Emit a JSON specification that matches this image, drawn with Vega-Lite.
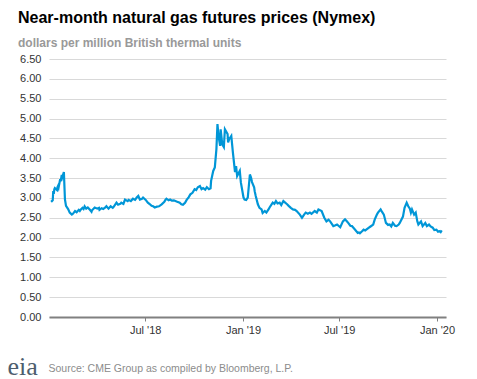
{
  "$schema": "https://vega.github.io/schema/vega-lite/v6.json",
  "width": 397,
  "height": 258,
  "autosize": {"type": "none"},
  "padding": {"left": 49, "top": 59, "right": 31, "bottom": 62},
  "background": "white",
  "title": {
    "text": "Near-month natural gas futures prices (Nymex)",
    "subtitle": "dollars per million British thermal units",
    "anchor": "start",
    "frame": "group",
    "dx": -31,
    "offset": 4,
    "font": "Liberation Sans",
    "fontSize": 16,
    "fontWeight": "bold",
    "color": "#000000",
    "subtitleFont": "Liberation Sans",
    "subtitleFontSize": 12,
    "subtitleFontWeight": "bold",
    "subtitleColor": "#999999",
    "subtitlePadding": 12
  },
  "config": {"view": {"stroke": null}},
  "data": {
    "values": [
      {"date": "2018-01-05", "price": 2.90},
      {"date": "2018-01-08", "price": 2.94},
      {"date": "2018-01-09", "price": 3.17},
      {"date": "2018-01-10", "price": 3.10},
      {"date": "2018-01-11", "price": 3.22},
      {"date": "2018-01-12", "price": 3.25},
      {"date": "2018-01-16", "price": 3.20},
      {"date": "2018-01-17", "price": 3.27},
      {"date": "2018-01-18", "price": 3.30},
      {"date": "2018-01-19", "price": 3.26},
      {"date": "2018-01-22", "price": 3.47},
      {"date": "2018-01-23", "price": 3.42},
      {"date": "2018-01-25", "price": 3.58},
      {"date": "2018-01-26", "price": 3.52},
      {"date": "2018-01-29", "price": 3.65},
      {"date": "2018-01-31", "price": 2.96},
      {"date": "2018-02-02", "price": 2.80},
      {"date": "2018-02-06", "price": 2.72},
      {"date": "2018-02-09", "price": 2.63},
      {"date": "2018-02-13", "price": 2.58},
      {"date": "2018-02-15", "price": 2.60},
      {"date": "2018-02-19", "price": 2.67},
      {"date": "2018-02-22", "price": 2.64},
      {"date": "2018-02-26", "price": 2.70},
      {"date": "2018-02-28", "price": 2.67},
      {"date": "2018-03-02", "price": 2.71},
      {"date": "2018-03-05", "price": 2.75},
      {"date": "2018-03-07", "price": 2.72},
      {"date": "2018-03-09", "price": 2.79},
      {"date": "2018-03-12", "price": 2.73},
      {"date": "2018-03-15", "price": 2.76},
      {"date": "2018-03-19", "price": 2.70},
      {"date": "2018-03-22", "price": 2.65},
      {"date": "2018-03-23", "price": 2.69},
      {"date": "2018-03-28", "price": 2.76},
      {"date": "2018-04-02", "price": 2.73},
      {"date": "2018-04-05", "price": 2.75},
      {"date": "2018-04-06", "price": 2.70},
      {"date": "2018-04-10", "price": 2.74},
      {"date": "2018-04-13", "price": 2.72},
      {"date": "2018-04-17", "price": 2.76},
      {"date": "2018-04-19", "price": 2.79},
      {"date": "2018-04-23", "price": 2.73},
      {"date": "2018-04-27", "price": 2.79},
      {"date": "2018-05-01", "price": 2.75},
      {"date": "2018-05-03", "price": 2.78},
      {"date": "2018-05-08", "price": 2.88},
      {"date": "2018-05-11", "price": 2.83},
      {"date": "2018-05-15", "price": 2.85},
      {"date": "2018-05-17", "price": 2.88},
      {"date": "2018-05-21", "price": 2.85},
      {"date": "2018-05-24", "price": 2.96},
      {"date": "2018-05-29", "price": 2.92},
      {"date": "2018-05-31", "price": 2.95},
      {"date": "2018-06-04", "price": 2.92},
      {"date": "2018-06-08", "price": 2.98},
      {"date": "2018-06-12", "price": 2.95},
      {"date": "2018-06-15", "price": 3.01},
      {"date": "2018-06-18", "price": 3.05},
      {"date": "2018-06-21", "price": 2.96},
      {"date": "2018-06-25", "price": 2.98},
      {"date": "2018-06-27", "price": 3.01},
      {"date": "2018-07-02", "price": 2.95},
      {"date": "2018-07-06", "price": 2.88},
      {"date": "2018-07-10", "price": 2.84},
      {"date": "2018-07-13", "price": 2.80},
      {"date": "2018-07-16", "price": 2.79},
      {"date": "2018-07-19", "price": 2.76},
      {"date": "2018-07-23", "price": 2.78},
      {"date": "2018-07-27", "price": 2.79},
      {"date": "2018-08-01", "price": 2.84},
      {"date": "2018-08-06", "price": 2.90},
      {"date": "2018-08-08", "price": 2.95},
      {"date": "2018-08-10", "price": 2.98},
      {"date": "2018-08-14", "price": 2.94},
      {"date": "2018-08-17", "price": 2.96},
      {"date": "2018-08-20", "price": 2.93},
      {"date": "2018-08-24", "price": 2.94},
      {"date": "2018-08-29", "price": 2.91},
      {"date": "2018-09-04", "price": 2.88},
      {"date": "2018-09-07", "price": 2.84},
      {"date": "2018-09-10", "price": 2.83},
      {"date": "2018-09-14", "price": 2.88},
      {"date": "2018-09-17", "price": 2.95},
      {"date": "2018-09-21", "price": 3.02},
      {"date": "2018-09-24", "price": 3.09},
      {"date": "2018-09-28", "price": 3.13},
      {"date": "2018-10-02", "price": 3.22},
      {"date": "2018-10-05", "price": 3.20},
      {"date": "2018-10-08", "price": 3.27},
      {"date": "2018-10-12", "price": 3.30},
      {"date": "2018-10-15", "price": 3.22},
      {"date": "2018-10-18", "price": 3.25},
      {"date": "2018-10-22", "price": 3.21},
      {"date": "2018-10-25", "price": 3.27},
      {"date": "2018-10-29", "price": 3.22},
      {"date": "2018-11-01", "price": 3.24},
      {"date": "2018-11-02", "price": 3.43},
      {"date": "2018-11-06", "price": 3.68},
      {"date": "2018-11-09", "price": 3.77},
      {"date": "2018-11-12", "price": 4.23},
      {"date": "2018-11-14", "price": 4.86},
      {"date": "2018-11-16", "price": 4.56},
      {"date": "2018-11-19", "price": 4.31},
      {"date": "2018-11-20", "price": 4.73},
      {"date": "2018-11-23", "price": 4.35},
      {"date": "2018-11-26", "price": 4.28},
      {"date": "2018-11-28", "price": 4.73},
      {"date": "2018-12-03", "price": 4.61},
      {"date": "2018-12-04", "price": 4.40},
      {"date": "2018-12-06", "price": 4.48},
      {"date": "2018-12-10", "price": 4.56},
      {"date": "2018-12-13", "price": 4.15},
      {"date": "2018-12-17", "price": 3.65},
      {"date": "2018-12-19", "price": 3.80},
      {"date": "2018-12-21", "price": 3.55},
      {"date": "2018-12-26", "price": 3.68},
      {"date": "2018-12-28", "price": 3.39},
      {"date": "2019-01-02", "price": 3.01},
      {"date": "2019-01-04", "price": 2.96},
      {"date": "2019-01-07", "price": 2.95},
      {"date": "2019-01-10", "price": 3.01},
      {"date": "2019-01-14", "price": 3.59},
      {"date": "2019-01-16", "price": 3.52},
      {"date": "2019-01-18", "price": 3.40},
      {"date": "2019-01-22", "price": 3.27},
      {"date": "2019-01-23", "price": 3.17},
      {"date": "2019-01-25", "price": 3.05},
      {"date": "2019-01-29", "price": 2.84},
      {"date": "2019-02-01", "price": 2.75},
      {"date": "2019-02-05", "price": 2.71},
      {"date": "2019-02-07", "price": 2.62},
      {"date": "2019-02-11", "price": 2.67},
      {"date": "2019-02-14", "price": 2.63},
      {"date": "2019-02-18", "price": 2.71},
      {"date": "2019-02-20", "price": 2.76},
      {"date": "2019-02-26", "price": 2.88},
      {"date": "2019-03-01", "price": 2.85},
      {"date": "2019-03-04", "price": 2.92},
      {"date": "2019-03-07", "price": 2.86},
      {"date": "2019-03-11", "price": 2.88},
      {"date": "2019-03-14", "price": 2.82},
      {"date": "2019-03-18", "price": 2.92},
      {"date": "2019-03-25", "price": 2.84},
      {"date": "2019-03-28", "price": 2.80},
      {"date": "2019-04-01", "price": 2.75},
      {"date": "2019-04-05", "price": 2.71},
      {"date": "2019-04-09", "price": 2.70},
      {"date": "2019-04-12", "price": 2.67},
      {"date": "2019-04-18", "price": 2.58},
      {"date": "2019-04-22", "price": 2.50},
      {"date": "2019-04-26", "price": 2.58},
      {"date": "2019-04-29", "price": 2.63},
      {"date": "2019-05-03", "price": 2.60},
      {"date": "2019-05-07", "price": 2.63},
      {"date": "2019-05-10", "price": 2.60},
      {"date": "2019-05-16", "price": 2.67},
      {"date": "2019-05-20", "price": 2.63},
      {"date": "2019-05-23", "price": 2.71},
      {"date": "2019-05-29", "price": 2.67},
      {"date": "2019-06-03", "price": 2.50},
      {"date": "2019-06-07", "price": 2.41},
      {"date": "2019-06-11", "price": 2.45},
      {"date": "2019-06-14", "price": 2.41},
      {"date": "2019-06-20", "price": 2.29},
      {"date": "2019-06-24", "price": 2.31},
      {"date": "2019-06-27", "price": 2.33},
      {"date": "2019-07-03", "price": 2.26},
      {"date": "2019-07-08", "price": 2.41},
      {"date": "2019-07-12", "price": 2.46},
      {"date": "2019-07-15", "price": 2.42},
      {"date": "2019-07-18", "price": 2.37},
      {"date": "2019-07-22", "price": 2.30},
      {"date": "2019-07-25", "price": 2.29},
      {"date": "2019-07-31", "price": 2.20},
      {"date": "2019-08-05", "price": 2.12},
      {"date": "2019-08-07", "price": 2.13},
      {"date": "2019-08-09", "price": 2.11},
      {"date": "2019-08-13", "price": 2.16},
      {"date": "2019-08-16", "price": 2.20},
      {"date": "2019-08-19", "price": 2.18},
      {"date": "2019-08-26", "price": 2.25},
      {"date": "2019-08-29", "price": 2.28},
      {"date": "2019-09-03", "price": 2.33},
      {"date": "2019-09-06", "price": 2.46},
      {"date": "2019-09-10", "price": 2.58},
      {"date": "2019-09-12", "price": 2.63},
      {"date": "2019-09-17", "price": 2.71},
      {"date": "2019-09-20", "price": 2.64},
      {"date": "2019-09-23", "price": 2.58},
      {"date": "2019-09-27", "price": 2.37},
      {"date": "2019-10-01", "price": 2.32},
      {"date": "2019-10-04", "price": 2.33},
      {"date": "2019-10-07", "price": 2.28},
      {"date": "2019-10-10", "price": 2.37},
      {"date": "2019-10-14", "price": 2.30},
      {"date": "2019-10-17", "price": 2.29},
      {"date": "2019-10-21", "price": 2.33},
      {"date": "2019-10-23", "price": 2.37},
      {"date": "2019-10-29", "price": 2.53},
      {"date": "2019-11-01", "price": 2.75},
      {"date": "2019-11-05", "price": 2.88},
      {"date": "2019-11-08", "price": 2.79},
      {"date": "2019-11-11", "price": 2.73},
      {"date": "2019-11-13", "price": 2.63},
      {"date": "2019-11-15", "price": 2.71},
      {"date": "2019-11-19", "price": 2.58},
      {"date": "2019-11-22", "price": 2.63},
      {"date": "2019-11-25", "price": 2.41},
      {"date": "2019-11-27", "price": 2.33},
      {"date": "2019-12-02", "price": 2.41},
      {"date": "2019-12-05", "price": 2.29},
      {"date": "2019-12-10", "price": 2.37},
      {"date": "2019-12-13", "price": 2.29},
      {"date": "2019-12-17", "price": 2.33},
      {"date": "2019-12-20", "price": 2.28},
      {"date": "2019-12-24", "price": 2.25},
      {"date": "2019-12-27", "price": 2.19},
      {"date": "2019-12-31", "price": 2.20},
      {"date": "2020-01-03", "price": 2.15},
      {"date": "2020-01-06", "price": 2.16},
      {"date": "2020-01-08", "price": 2.14},
      {"date": "2020-01-10", "price": 2.18}
    ]
  },
  "mark": {"type": "line", "color": "#0096d7", "strokeWidth": 2.2, "interpolate": "linear"},
  "encoding": {
    "x": {
      "field": "date",
      "type": "temporal",
      "scale": {"domain": [{"year": 2018, "month": 1, "date": 1}, {"year": 2020, "month": 1, "date": 18}]},
      "axis": {
        "values": [
          {"year": 2018, "month": 7, "date": 1},
          {"year": 2019, "month": 1, "date": 1},
          {"year": 2019, "month": 7, "date": 1},
          {"year": 2020, "month": 1, "date": 1}
        ],
        "format": "%b '%y",
        "grid": false,
        "domainColor": "#808080",
        "domainWidth": 2,
        "tickColor": "#808080",
        "tickSize": 4,
        "tickWidth": 1,
        "labelPadding": 3,
        "labelFont": "Liberation Sans",
        "labelFontSize": 11,
        "labelColor": "#333333",
        "title": "Source: CME Group as compiled by Bloomberg, L.P.",
        "titleFont": "Liberation Sans",
        "titleFontSize": 10.5,
        "titleFontWeight": "normal",
        "titleColor": "#8c8c8c",
        "titleAnchor": "start",
        "titleAlign": "left",
        "titleBaseline": "alphabetic",
        "titleX": -1,
        "titleY": 54
      }
    },
    "y": {
      "field": "price",
      "type": "quantitative",
      "scale": {"domain": [0, 6.5], "nice": false},
      "axis": {
        "values": [0, 0.5, 1, 1.5, 2, 2.5, 3, 3.5, 4, 4.5, 5, 5.5, 6, 6.5],
        "format": ".2f",
        "grid": true,
        "gridColor": "#d9d9d9",
        "gridWidth": 1,
        "domain": false,
        "ticks": false,
        "labelPadding": 8,
        "labelFont": "Liberation Sans",
        "labelFontSize": 11,
        "labelColor": "#333333",
        "title": "eia",
        "titleFont": "Liberation Serif",
        "titleFontSize": 26,
        "titleFontWeight": "normal",
        "titleColor": "#4d5e6e",
        "titleAngle": 0,
        "titleAlign": "left",
        "titleBaseline": "alphabetic",
        "titleX": -42,
        "titleY": 315
      }
    }
  }
}
